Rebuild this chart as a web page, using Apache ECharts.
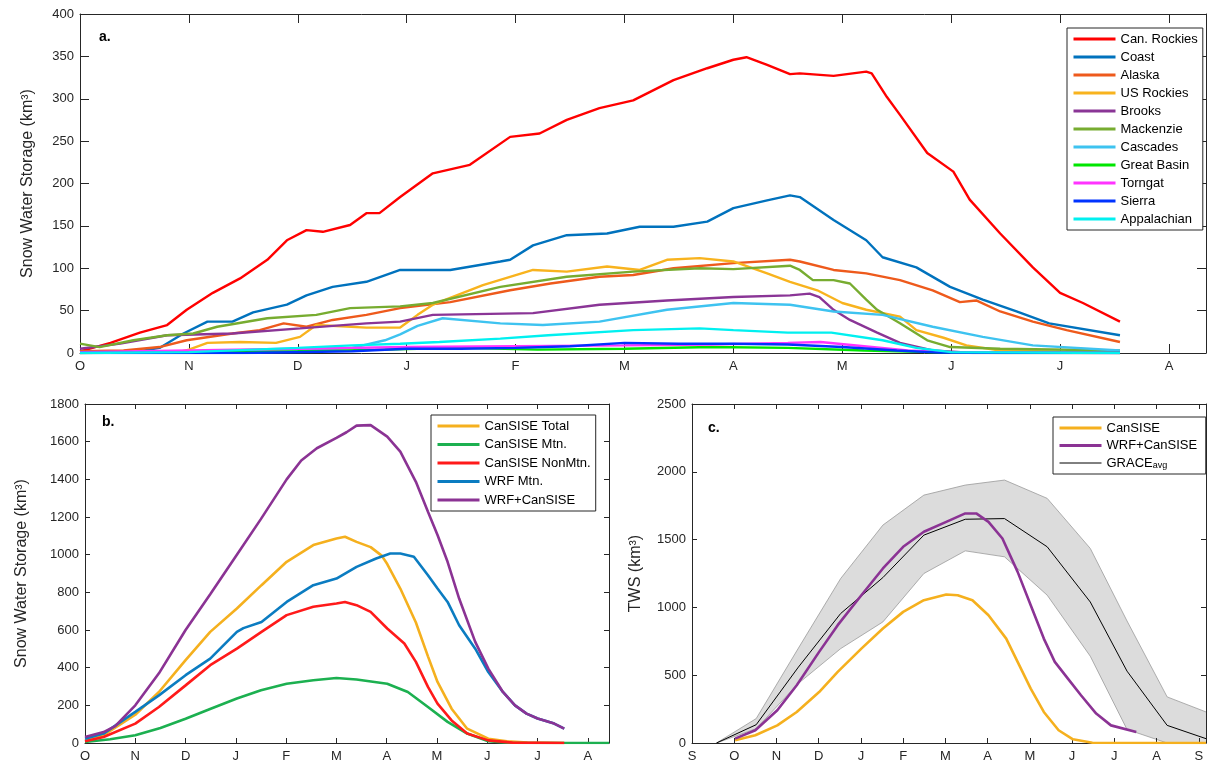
<!DOCTYPE html>
<html><head><meta charset="utf-8">
<script src="https://cdn.jsdelivr.net/npm/echarts@6/dist/echarts.min.js"></script>
<style>html,body{margin:0;padding:0;background:#fff}#c{width:1207px;height:767px}</style>
</head><body><div id="c"></div>
<script>
// ---- tick labels ----
const monthsA = ['O','N','D','J','F','M','A','M','J','J','A'];
const monthsB = ['O','N','D','J','F','M','A','M','J','J','A'];
const monthsC = ['S','O','N','D','J','F','M','A','M','J','J','A','S'];

// ---- panel a: [month index from Oct 1, km3] ----
const canRockies = [[0,2],[0.28,12],[0.55,24],[0.8,33],[0.98,51],[1.22,71],[1.47,88],[1.72,110],[1.9,133],[2.08,145],[2.23,143],[2.48,151],[2.63,165],[2.75,165],[2.94,184],[3.24,212],[3.58,222],[3.95,255],[4.22,259],[4.47,275],[4.77,289],[5.08,298],[5.45,322],[5.76,336],[6.0,346],[6.12,349],[6.31,340],[6.52,329],[6.61,330],[6.92,327],[7.22,332],[7.27,330],[7.41,302],[7.53,281],[7.78,236],[8.02,214],[8.17,181],[8.45,141],[8.75,101],[9.0,71],[9.21,59],[9.55,37]];
const coast = [[0,0],[0.5,1],[0.73,6],[0.95,23],[1.17,37],[1.4,37],[1.59,48],[1.9,57],[2.08,68],[2.32,78],[2.63,84],[2.94,98],[3.4,98],[3.86,108],[3.95,110],[4.16,127],[4.47,139],[4.84,141],[5.14,149],[5.45,149],[5.76,155],[6.0,171],[6.31,180],[6.52,186],[6.61,184],[6.92,157],[7.22,133],[7.37,113],[7.68,101],[7.99,78],[8.29,63],[8.6,49],[8.9,35],[9.55,21]];
const alaska = [[0,2],[0.4,3],[0.73,7],[0.98,15],[1.4,23],[1.65,27],[1.87,35],[2.08,31],[2.32,39],[2.63,45],[2.94,53],[3.4,60],[3.95,74],[4.32,82],[4.77,90],[5.08,92],[5.45,100],[6.0,106],[6.52,110],[6.61,108],[6.92,98],[7.22,94],[7.53,86],[7.83,74],[8.08,60],[8.23,62],[8.45,49],[8.75,37],[9.06,27],[9.55,13]];
const usRockies = [[0,0],[0.9,1],[1.0,4],[1.17,12],[1.47,13],[1.8,12],[2.02,19],[2.17,33],[2.63,30],[2.94,30],[3.1,45],[3.24,57],[3.7,80],[4.16,98],[4.47,96],[4.84,102],[5.14,98],[5.39,110],[5.69,112],[6.0,108],[6.31,94],[6.52,84],[6.77,74],[7.0,59],[7.22,51],[7.53,43],[7.68,27],[7.93,18],[8.14,9],[8.45,3],[9.55,0]];
const brooks = [[0,5],[0.37,11],[0.8,21],[1.4,23],[2.02,29],[2.63,35],[2.94,37],[3.24,45],[4.16,47],[4.77,57],[5.39,62],[6.0,66],[6.52,68],[6.7,70],[6.79,66],[6.92,51],[7.07,39],[7.32,24],[7.53,12],[7.83,3],[8.2,0],[9.55,0]];
const mackenzie = [[0,11],[0.18,7],[0.49,15],[0.8,21],[1.04,23],[1.26,31],[1.72,41],[2.17,45],[2.48,53],[2.94,55],[3.24,59],[3.86,78],[4.47,90],[5.08,96],[5.69,100],[6.0,99],[6.52,103],[6.61,98],[6.73,86],[6.92,86],[7.07,82],[7.22,63],[7.32,51],[7.53,35],[7.78,15],[7.99,7],[8.45,5],[9.55,3]];
const cascades = [[0,1],[1,1],[2,2],[2.5,6],[2.8,15],[2.94,22],[3.1,32],[3.33,41],[3.86,35],[4.25,33],[4.77,37],[5.39,51],[6.0,59],[6.52,57],[6.92,49],[7.37,45],[7.83,31],[8.29,19],[8.75,9],[9.55,3]];
const greatBasin = [[0,0],[1,1],[2,2],[2.8,4],[3.5,6],[4.2,4],[5,5],[5.8,7],[6.5,6],[7.2,3],[7.8,1],[8.5,0],[9.55,0]];
const torngat = [[0,1],[1,3],[2,5],[3,7],[4,8],[5,9],[5.8,10],[6.5,12],[6.8,13],[7.2,8],[7.6,3],[8,1],[9.55,0]];
const sierra = [[0,0],[1.5,0],[2.5,2],[3,5],[3.5,5],[4,6],[4.5,8],[5,12],[5.5,11],[6,11],[6.5,10],[7,7],[7.5,3],[7.9,0.5],[9.55,0]];
const appalachian = [[0,0],[1,1],[2,6],[2.5,9],[2.94,11],[3.3,13],[3.86,17],[4.3,21],[5.08,27],[5.69,29],[6.0,27],[6.5,24],[6.9,24],[7.37,15],[7.68,6],[8,1],[9.55,0]];

// ---- panel b: [month index from Oct 1, km3] ----
const cansiseTotal = [[0,14],[0.37,41],[1.0,150],[1.47,271],[2.0,440],[2.49,590],[3.02,714],[3.51,838],[4.01,962],[4.54,1051],[5.0,1086],[5.17,1095],[5.4,1068],[5.68,1040],[5.9,995],[6.01,950],[6.27,820],[6.58,640],[6.82,460],[7.01,324],[7.29,182],[7.6,76],[8.02,23],[8.39,9],[8.8,2],[9.53,0]];
const cansiseMtn = [[0,5],[0.5,20],[1.0,41],[1.5,80],[2.0,129],[2.5,182],[3.02,236],[3.5,280],[4.01,315],[4.54,333],[5.0,345],[5.4,337],[6.01,315],[6.42,271],[6.82,191],[7.21,112],[7.6,50],[8.02,9],[8.4,1],[10.42,0]];
const cansiseNonMtn = [[0,9],[0.37,32],[1.0,103],[1.47,191],[2.0,306],[2.49,413],[3.02,501],[3.51,590],[4.01,679],[4.54,723],[5.0,741],[5.17,749],[5.4,732],[5.68,696],[6.01,608],[6.35,528],[6.58,431],[6.82,298],[7.01,209],[7.29,120],[7.6,50],[8.02,14],[8.5,2],[9.53,0]];
const wrfMtn = [[0,23],[0.37,50],[1.0,165],[1.47,253],[2.0,360],[2.49,448],[3.02,590],[3.15,610],[3.51,643],[4.01,749],[4.54,838],[5.0,873],[5.4,935],[5.79,980],[6.07,1006],[6.27,1006],[6.54,989],[6.82,891],[7.01,820],[7.21,749],[7.44,625],[7.76,501],[8.02,377],[8.31,271],[8.55,200],[8.78,156],[9.0,130],[9.33,103],[9.53,76]];
const wrfCansiseB = [[0,32],[0.37,58],[0.6,90],[1.0,200],[1.47,370],[2.0,600],[2.49,790],[3.02,1000],[3.5,1190],[4.01,1400],[4.3,1500],[4.61,1565],[5.0,1620],[5.2,1650],[5.4,1685],[5.68,1688],[6.01,1627],[6.27,1547],[6.58,1387],[6.82,1228],[7.01,1104],[7.21,962],[7.44,767],[7.76,537],[8.02,395],[8.31,271],[8.55,200],[8.78,156],[9.0,130],[9.33,103],[9.53,76]];

// ---- panel c: [month index from Sep 1, km3] ----
const cansiseC = [[1.02,20],[1.5,57],[2.02,130],[2.48,229],[3.01,376],[3.45,524],[4.01,696],[4.52,844],[5.0,967],[5.49,1053],[6.02,1095],[6.29,1090],[6.64,1053],[7.02,942],[7.44,770],[7.71,598],[8.02,401],[8.33,229],[8.68,94],[9.02,27],[9.48,2],[12.17,0]];
const wrfCansiseC = [[1.02,32],[1.5,94],[2.02,241],[2.48,426],[3.01,672],[3.45,869],[4.01,1090],[4.52,1287],[5.0,1447],[5.49,1558],[6.02,1631],[6.47,1693],[6.73,1693],[7.02,1631],[7.35,1508],[7.71,1262],[8.02,1016],[8.33,770],[8.59,598],[8.9,475],[9.21,352],[9.57,217],[9.92,130],[10.52,81]];
const graceX  = [0.58,1.52,2.52,3.52,4.52,5.49,6.47,7.4,8.41,9.43,10.3,11.25,12.17];
const graceAvg = [0,135,560,955,1220,1533,1650,1655,1447,1040,530,130,32];
const graceUp  = [0,180,700,1213,1607,1828,1902,1939,1804,1435,900,340,229];
const graceLo  = [0,106,440,696,893,1250,1417,1373,1090,640,100,0,0];

const FONT = 'Liberation Sans';
const AX = '#262626';

function xAx(grid, max, labels, pos, tick) {
  return {
    type: 'value', gridIndex: grid, min: 0, max: max, interval: 1, position: pos, z: 1.5,
    axisLine: { show: true, onZero: false, lineStyle: { color: AX, width: 1 } },
    axisTick: { show: true, inside: true, length: tick, lineStyle: { color: AX } },
    axisLabel: { show: pos === 'bottom', color: AX, fontSize: 13, fontFamily: FONT, margin: 7,
      showMaxLabel: false,
      formatter: v => (Number.isInteger(v) && labels[v] !== undefined) ? labels[v] : '' },
    splitLine: { show: false }
  };
}
function yAx(grid, max, interval, pos, tick, name, gap) {
  return {
    type: 'value', gridIndex: grid, min: 0, max: max, interval: interval, position: pos, z: 1.5,
    name: pos === 'left' ? name : '', nameLocation: 'middle', nameGap: gap, nameRotate: 90,
    nameTextStyle: { fontSize: 16, fontFamily: FONT, color: AX },
    axisLine: { show: true, onZero: false, lineStyle: { color: AX, width: 1 } },
    axisTick: { show: true, inside: true, length: tick, lineStyle: { color: AX } },
    axisLabel: { show: pos === 'left', color: AX, fontSize: 13, fontFamily: FONT, margin: 6,
      formatter: v => String(v) },
    splitLine: { show: false }
  };
}
function ln(name, data, xi, yi, color, width, z) {
  return { type: 'line', name: name, data: data, xAxisIndex: xi, yAxisIndex: yi,
    symbol: 'none', showSymbol: false, color: color, itemStyle: { color: color },
    lineStyle: { color: color, width: width }, z: z || 2, animation: false };
}

const seriesA = [
  ['Can. Rockies', canRockies, '#FF0000'],
  ['Coast', coast, '#0072BD'],
  ['Alaska', alaska, '#EE5A1C'],
  ['US Rockies', usRockies, '#F8B31E'],
  ['Brooks', brooks, '#8A3596'],
  ['Mackenzie', mackenzie, '#77AC30'],
  ['Cascades', cascades, '#3EC3F0'],
  ['Great Basin', greatBasin, '#00E600'],
  ['Torngat', torngat, '#FF33FF'],
  ['Sierra', sierra, '#0033FF'],
  ['Appalachian', appalachian, '#00F0F0']
];
const seriesB = [
  ['CanSISE Total', cansiseTotal, '#F5B01E'],
  ['CanSISE Mtn.', cansiseMtn, '#1CB050'],
  ['CanSISE NonMtn.', cansiseNonMtn, '#FF1A1A'],
  ['WRF Mtn.', wrfMtn, '#0B7CC1'],
  ['WRF+CanSISE', wrfCansiseB, '#8B3394']
];

const series = [];
seriesA.forEach((s, i) => series.push(ln(s[0], s[1], 0, 0, s[2], 2.4, 2 + i * 0.01)));
seriesB.forEach((s, i) => series.push(ln(s[0], s[1], 2, 2, s[2], 2.6, 2 + i * 0.01)));

// GRACE spread: grey area down to the upper bound, then white area down to the lower bound
series.push({ type: 'line', name: 'bandHi', data: graceX.map((x, i) => [x, graceUp[i]]), xAxisIndex: 4, yAxisIndex: 4,
  symbol: 'none', lineStyle: { color: '#9a9a9a', width: 0.8 }, areaStyle: { color: '#DCDCDC', opacity: 1 }, z: 1, animation: false });
series.push({ type: 'line', name: 'bandLo', data: graceX.map((x, i) => [x, graceLo[i]]), xAxisIndex: 4, yAxisIndex: 4,
  symbol: 'none', lineStyle: { color: '#9a9a9a', width: 0.8 }, areaStyle: { color: '#FFFFFF', opacity: 1 }, z: 1.1, animation: false });
series.push(ln('GRACE', graceX.map((x, i) => [x, graceAvg[i]]), 4, 4, '#000000', 1, 2));
series.push(ln('CanSISE', cansiseC, 4, 4, '#F5B01E', 2.6, 3));
series.push(ln('WRF+CanSISE ', wrfCansiseC, 4, 4, '#8B3394', 2.6, 3.1));

function legend(names, left, top, extra) {
  return Object.assign({
    data: names, orient: 'vertical', left: left, top: top, itemWidth: 42, itemHeight: 14, itemGap: 4,
    padding: [4, 5, 4, 5], backgroundColor: '#fff', borderColor: AX, borderWidth: 1, borderRadius: 0,
    selectedMode: false, itemStyle: { opacity: 0 }, lineStyle: { width: 3 },
    textStyle: { fontSize: 13, fontFamily: FONT, color: '#000', lineHeight: 14 }
  }, extra || {});
}

const titleStyle = { fontSize: 14, fontWeight: 'bold', fontFamily: FONT, color: '#000' };

const option = {
  animation: false,
  backgroundColor: '#fff',
  title: [
    { text: 'a.', left: 99, top: 30, padding: 0, textStyle: titleStyle },
    { text: 'b.', left: 102, top: 415, padding: 0, textStyle: titleStyle },
    { text: 'c.', left: 708, top: 421, padding: 0, textStyle: titleStyle }
  ],
  grid: [
    { left: 80, top: 14, right: 1, bottom: 414, outerBoundsMode: 'none' },
    { left: 85, top: 404, right: 598, bottom: 24, outerBoundsMode: 'none' },
    { left: 692, top: 404, right: 1, bottom: 24, outerBoundsMode: 'none' }
  ],
  xAxis: [
    xAx(0, 10.34, monthsA, 'bottom', 9), xAx(0, 10.34, monthsA, 'top', 9),
    xAx(1, 10.42, monthsB, 'bottom', 5), xAx(1, 10.42, monthsB, 'top', 5),
    xAx(2, 12.17, monthsC, 'bottom', 5), xAx(2, 12.17, monthsC, 'top', 5)
  ],
  yAxis: [
    yAx(0, 400, 50, 'left', 9, 'Snow Water Storage (km³)', 44), yAx(0, 400, 50, 'right', 9, '', 0),
    yAx(1, 1800, 200, 'left', 5, 'Snow Water Storage (km³)', 55), yAx(1, 1800, 200, 'right', 5, '', 0),
    yAx(2, 2500, 500, 'left', 5, 'TWS (km³)', 48), yAx(2, 2500, 500, 'right', 5, '', 0)
  ],
  legend: [
    legend(seriesA.map(s => s[0]), 1067, 28),
    legend(seriesB.map(s => s[0]), 431, 415, { itemGap: 4.5 }),
    legend([{ name: 'CanSISE' }, { name: 'WRF+CanSISE ' }, { name: 'GRACE', lineStyle: { width: 1 } }], 1053, 417, {
      itemGap: 3.5,
      formatter: n => n === 'GRACE' ? 'GRACE{s|avg}' : n,
      textStyle: { fontSize: 13, fontFamily: FONT, color: '#000', lineHeight: 14,
        rich: { s: { fontSize: 9, fontFamily: FONT, color: '#000', verticalAlign: 'bottom', padding: [7, 0, 0, 0] } } }
    })
  ],
  series: series
};

const chart = echarts.init(document.getElementById('c'), null, { renderer: 'canvas' });
chart.setOption(option);
</script></body></html>
